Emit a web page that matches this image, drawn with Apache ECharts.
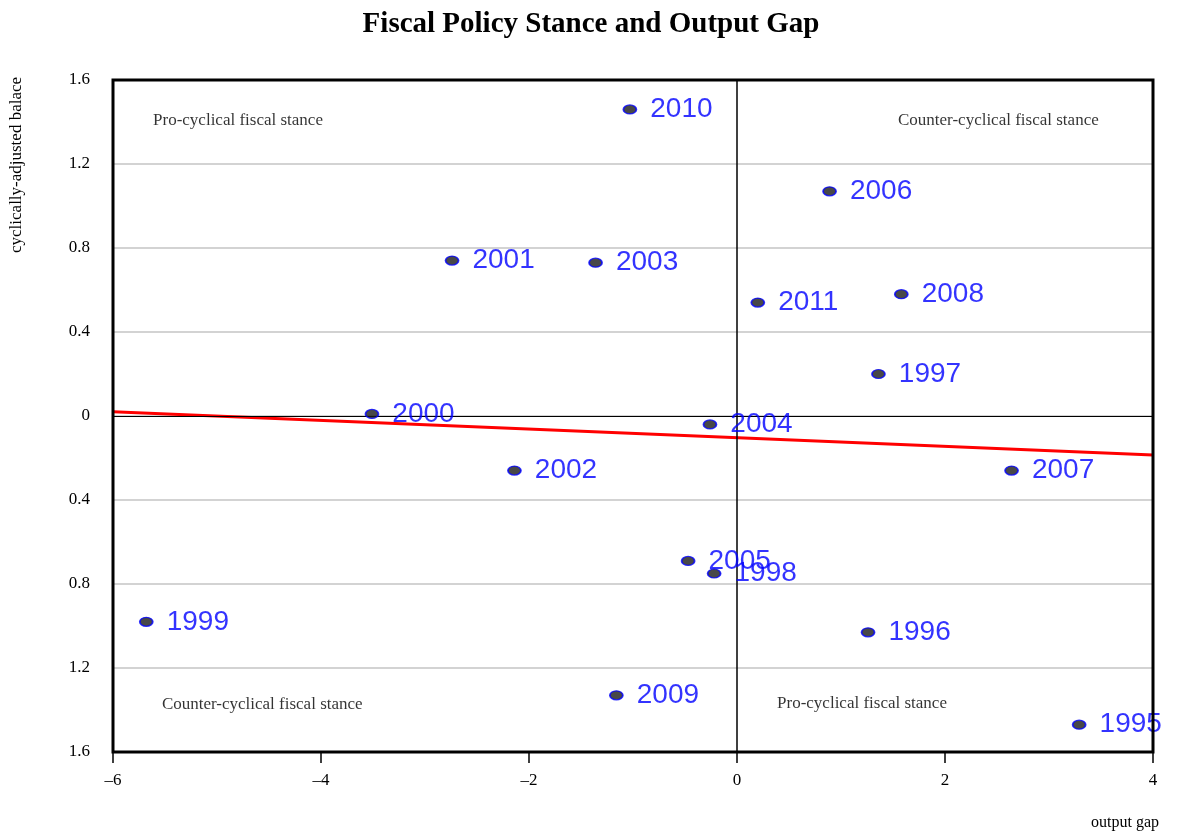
<!DOCTYPE html>
<html>
<head>
<meta charset="utf-8">
<script src="https://cdn.jsdelivr.net/npm/echarts@6/dist/echarts.min.js"></script>
<style>
  html, body { margin: 0; padding: 0; background: #fff; }
  #chart { width: 1182px; height: 836px; }
</style>
</head>
<body>
<div id="chart"></div>
<script>
// years and their (output gap, cyclically-adjusted balance) positions
const years = ['2010', '2006', '2001', '2003', '2011', '2008', '1997', '2000', '2004',
  '2002', '2007', '2005', '1998', '1999', '1996', '2009', '1995'];
const outputGap = [-1.03, 0.89, -2.74, -1.36, 0.20, 1.58, 1.36, -3.51, -0.26,
  -2.14, 2.64, -0.47, -0.22, -5.68, 1.26, -1.16, 3.29];
const cabBalance = [1.46, 1.07, 0.74, 0.73, 0.54, 0.58, 0.20, 0.01, -0.04,
  -0.26, -0.26, -0.69, -0.75, -0.98, -1.03, -1.33, -1.47];

// fitted trend line end points
const trendX = [-6, 4];
const trendY = [0.02, -0.186];

// quadrant captions
const quadText = ['Pro-cyclical fiscal stance', 'Counter-cyclical fiscal stance',
  'Counter-cyclical fiscal stance', 'Pro-cyclical fiscal stance'];
const quadX = [-5.615, 1.548, -5.53, 0.385];
const quadY = [1.405, 1.405, -1.376, -1.371];

const xTicks = [-6, -4, -2, 0, 2, 4];

const serif = '"Liberation Serif", "Times New Roman", serif';

const chart = echarts.init(document.getElementById('chart'));

chart.setOption({
  animation: false,
  backgroundColor: '#fff',
  title: {
    text: 'Fiscal Policy Stance and Output Gap',
    left: 'center',
    top: 5,
    textStyle: { fontFamily: serif, fontSize: 29, fontWeight: 'bold', color: '#000' }
  },
  grid: {
    left: 113, right: 29, top: 80, bottom: 84
  },
  xAxis: {
    type: 'value',
    min: -6, max: 4, interval: 2,
    axisLine: { show: false, onZero: false },
    axisTick: { show: true, length: 11, lineStyle: { color: '#000', width: 1.5 } },
    splitLine: { show: false },
    axisLabel: {
      margin: 20,
      fontFamily: serif, fontSize: 17, color: '#000',
      formatter: v => xTicks.includes(v) ? String(v).replace('-', '\u2013') : ''
    }
  },
  yAxis: {
    type: 'value',
    min: -1.6, max: 1.6, interval: 0.4,
    axisLine: { show: false, onZero: false },
    axisTick: { show: false },
    splitLine: { show: true, showMinLine: false, showMaxLine: false,
      lineStyle: { color: '#d3d3d3', width: 2 } },
    axisLabel: {
      margin: 23,
      fontFamily: serif, fontSize: 17, color: '#000',
      formatter: v => {
        const a = Math.abs(Math.round(v * 10) / 10);
        return a === 0 ? '0' : a.toFixed(1);
      }
    }
  },
  graphic: [
    {
      type: 'text', x: 25, y: 253, rotation: Math.PI / 2,
      style: { text: 'cyclically-adjusted balace', font: '17px ' + serif, fill: '#000',
        textAlign: 'left', textVerticalAlign: 'bottom' }
    },
    {
      type: 'text', x: 1091, y: 815,
      style: { text: 'output gap', font: '16px ' + serif, fill: '#000' }
    },
    {
      // plot frame drawn above the marks
      type: 'rect', z: 100, silent: true,
      shape: { x: 113, y: 80, width: 1040, height: 672 },
      style: { fill: 'none', stroke: '#000', lineWidth: 3 }
    }
  ],
  series: [
    {
      type: 'line',
      data: trendX.map((x, i) => [x, trendY[i]]),
      symbol: 'none',
      lineStyle: { color: '#ff0000', width: 3 },
      z: 3,
      markLine: {
        silent: true,
        symbol: 'none',
        label: { show: false },
        data: [
          { xAxis: 0, lineStyle: { color: '#000', width: 1.5, type: 'solid' } },
          { yAxis: 0, lineStyle: { color: '#000', width: 1, type: 'solid' } }
        ]
      }
    },
    {
      type: 'scatter',
      data: years.map((y, i) => [outputGap[i], cabBalance[i], y]),
      symbol: 'circle',
      symbolSize: [13, 9],
      itemStyle: { color: '#1a1a1a', borderColor: '#0000ff', borderWidth: 1.5 },
      z: 5,
      label: {
        show: true,
        position: 'right',
        distance: 13,
        formatter: p => p.data[2],
        fontFamily: '"Liberation Sans", Arial, sans-serif',
        fontSize: 28,
        color: '#0000ff'
      }
    },
    {
      type: 'scatter',
      data: quadText.map((t, i) => [quadX[i], quadY[i], t]),
      symbolSize: 0,
      silent: true,
      z: 4,
      label: {
        show: true,
        position: 'right',
        distance: 0,
        formatter: p => p.data[2],
        fontFamily: serif,
        fontSize: 17,
        color: '#000'
      }
    }
  ]
});
</script>
</body>
</html>
